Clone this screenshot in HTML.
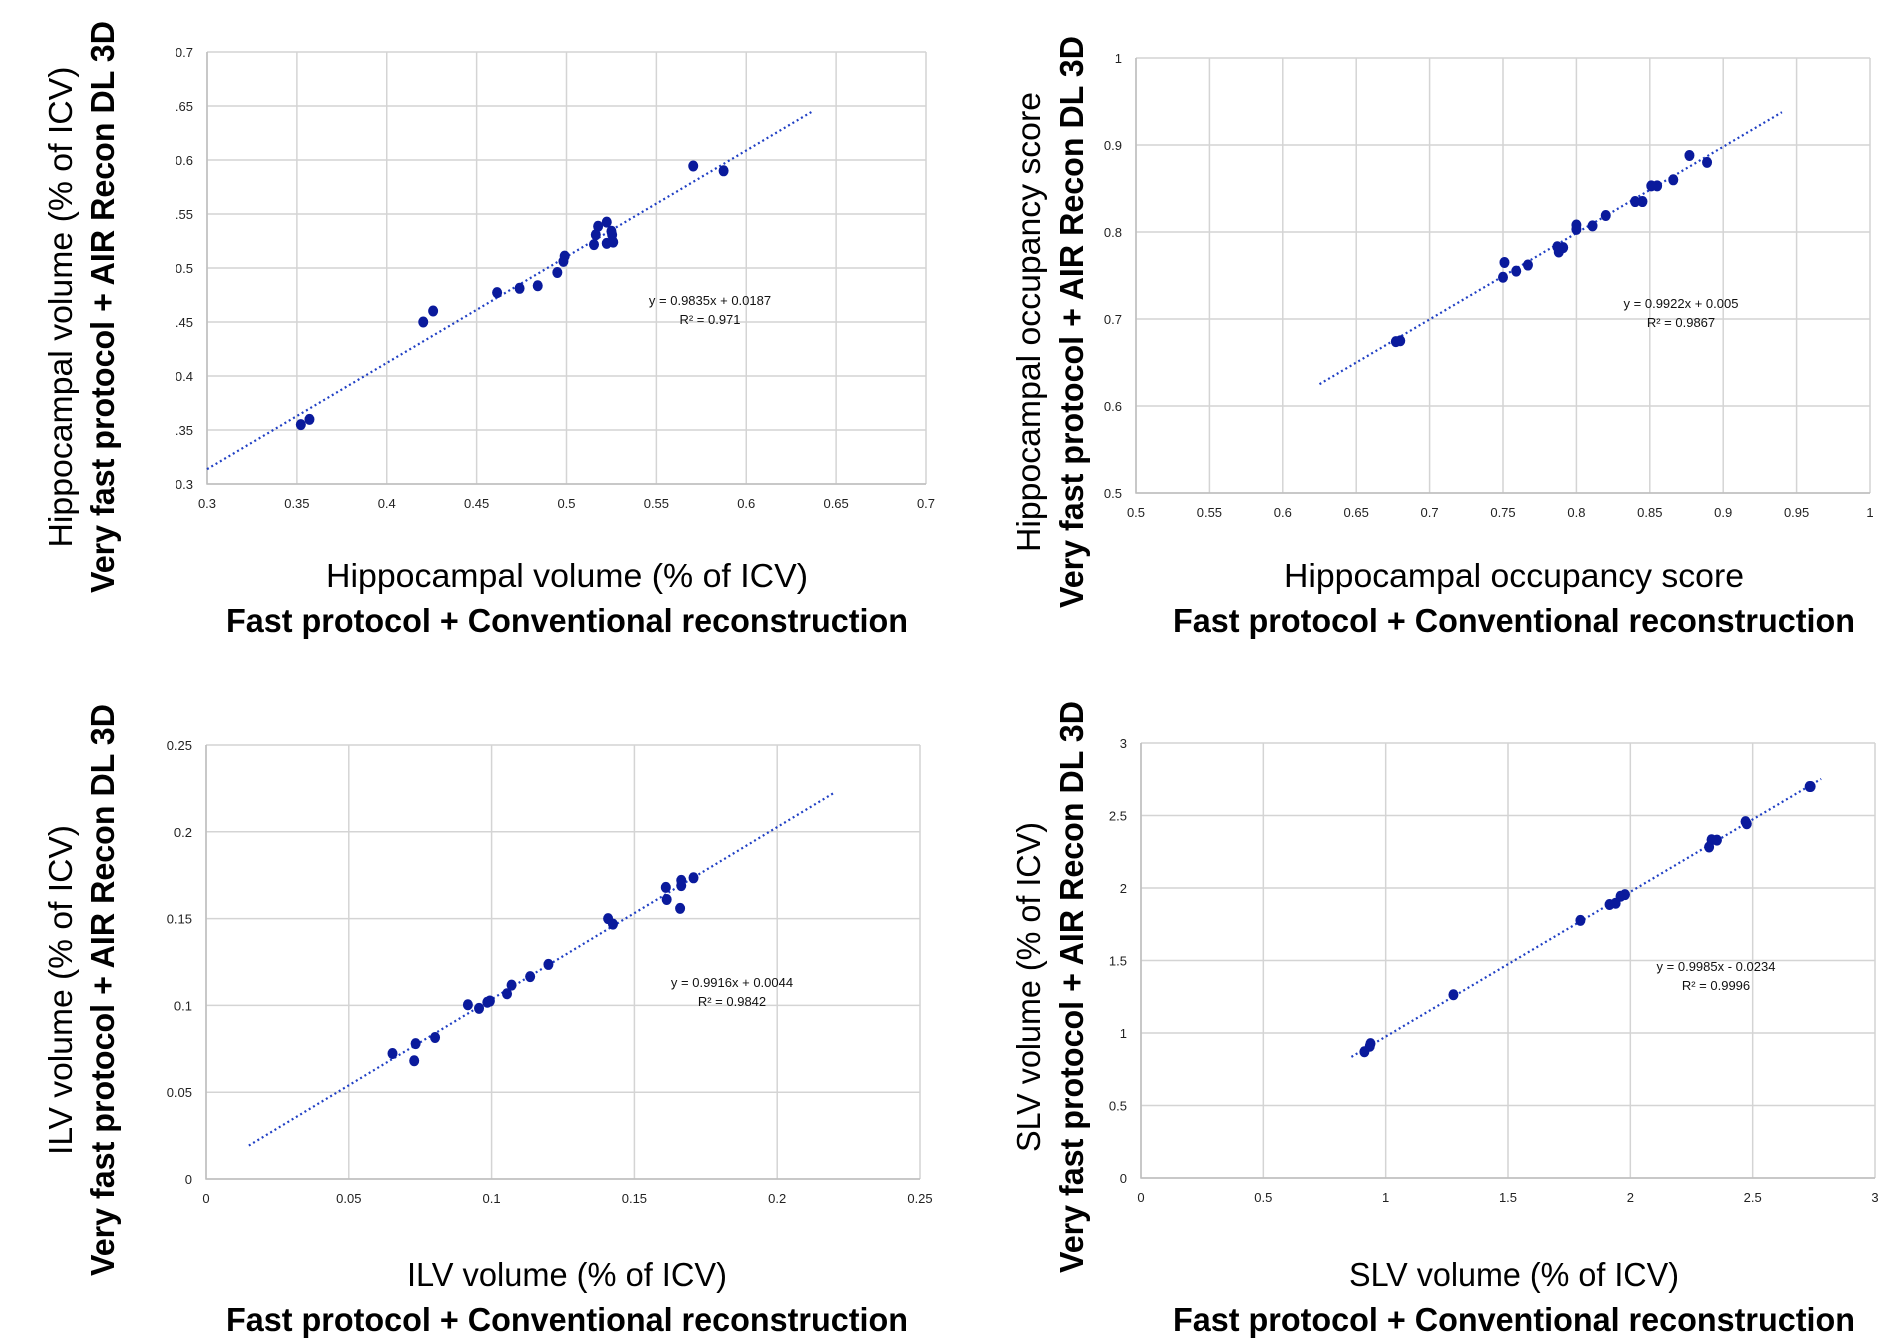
<!DOCTYPE html>
<html><head><meta charset="utf-8"><style>
html,body{margin:0;padding:0;background:#fff;}
svg{display:block;font-family:"Liberation Sans",sans-serif;}
</style></head><body>
<svg id="fig" width="1900" height="1339" viewBox="0 0 1900 1339" xmlns="http://www.w3.org/2000/svg">
<defs><clipPath id="clip1"><rect x="176" y="0" width="800" height="700"/></clipPath></defs>
</svg>
<script>
// ---- Chart 1: Hippocampal volume ----
const hvX = [0.5705,0.5874,0.5176,0.5224,0.5163,0.5153,0.5224,0.525,0.5254,0.526,0.499,0.4983,0.4949,0.484,0.4739,0.4614,0.4258,0.4203,0.357,0.3522];
const hvY = [0.5944,0.590,0.5387,0.5425,0.5308,0.5216,0.5228,0.534,0.5308,0.524,0.511,0.5061,0.4958,0.4836,0.4812,0.4772,0.4602,0.45,0.3598,0.355];
const hvXTicks = [0.3,0.35,0.4,0.45,0.5,0.55,0.6,0.65,0.7];
const hvYTicks = [0.3,0.35,0.4,0.45,0.5,0.55,0.6,0.65,0.7];
const hvXLabels = ["0.3","0.35","0.4","0.45","0.5","0.55","0.6","0.65","0.7"];
const hvYLabels = ["0.3","0.35","0.4","0.45","0.5","0.55","0.6","0.65","0.7"];
const hvFit = [0.9835,0.0187];
const hvFitRange = [0.3,0.637];
// ---- Chart 2: Hippocampal occupancy score ----
const hoX = [0.877,0.889,0.866,0.855,0.851,0.845,0.840,0.820,0.811,0.800,0.800,0.791,0.788,0.787,0.767,0.759,0.751,0.750,0.680,0.677];
const hoY = [0.888,0.880,0.860,0.853,0.853,0.835,0.835,0.819,0.807,0.808,0.803,0.782,0.777,0.783,0.762,0.755,0.765,0.748,0.675,0.674];
const hoXTicks = [0.5,0.55,0.6,0.65,0.7,0.75,0.8,0.85,0.9,0.95,1];
const hoYTicks = [0.5,0.6,0.7,0.8,0.9,1];
const hoXLabels = ["0.5","0.55","0.6","0.65","0.7","0.75","0.8","0.85","0.9","0.95","1"];
const hoYLabels = ["0.5","0.6","0.7","0.8","0.9","1"];
const hoFit = [0.9922,0.005];
const hoFitRange = [0.625,0.94];
// ---- Chart 3: ILV volume ----
const ilvX = [0.1707,0.1664,0.1664,0.161,0.1613,0.166,0.1408,0.1425,0.1199,0.1135,0.107,0.1054,0.0994,0.0985,0.0956,0.0917,0.0802,0.0734,0.0729,0.0653];
const ilvY = [0.1735,0.172,0.169,0.168,0.161,0.1559,0.150,0.1468,0.1236,0.1166,0.1117,0.1067,0.1025,0.1018,0.0983,0.1004,0.0815,0.078,0.0681,0.0723];
const ilvXTicks = [0,0.05,0.1,0.15,0.2,0.25];
const ilvYTicks = [0,0.05,0.1,0.15,0.2,0.25];
const ilvXLabels = ["0","0.05","0.1","0.15","0.2","0.25"];
const ilvYLabels = ["0","0.05","0.1","0.15","0.2","0.25"];
const ilvFit = [0.9916,0.0044];
const ilvFitRange = [0.015,0.22];
// ---- Chart 4: SLV volume ----
const slvX = [2.733,2.737,2.471,2.476,2.332,2.354,2.322,1.978,1.960,1.940,1.915,1.796,1.277,0.938,0.935,0.913];
const slvY = [2.70,2.70,2.458,2.443,2.333,2.330,2.283,1.954,1.943,1.895,1.886,1.777,1.264,0.927,0.909,0.871];
const slvXTicks = [0,0.5,1,1.5,2,2.5,3];
const slvYTicks = [0,0.5,1,1.5,2,2.5,3];
const slvXLabels = ["0","0.5","1","1.5","2","2.5","3"];
const slvYLabels = ["0","0.5","1","1.5","2","2.5","3"];
const slvFit = [0.9985,-0.0234];
const slvFitRange = [0.86,2.78];

const NS="http://www.w3.org/2000/svg";
const svg=document.getElementById('fig');
function mk(tag,attrs,parent){const e=document.createElementNS(NS,tag);for(const k in attrs)e.setAttribute(k,attrs[k]);(parent||svg).appendChild(e);return e;}

function chart(o){
  const g=mk('g',{});
  
  
  const sx=v=>o.L+(v-o.xd[0])/(o.xd[1]-o.xd[0])*(o.R-o.L);
  const sy=v=>o.B-(v-o.yd[0])/(o.yd[1]-o.yd[0])*(o.B-o.T);
  const lg=mk('g',{},g);
  if(o.clip) lg.setAttribute('clip-path','url(#'+o.clip+')');
  o.xt.forEach((v,i)=>{
    const l=mk('line',{x1:sx(v),x2:sx(v),y1:o.T,y2:o.B,stroke:'#d4d4d4','stroke-width':1.5},g);
    
    
    const t=mk('text',{x:sx(v),y:o.B+24,'text-anchor':'middle','font-size':13,fill:'#222'},g);
    t.textContent=o.xl[i];
    
    
  });
  o.yt.forEach((v,i)=>{
    const l=mk('line',{x1:o.L,x2:o.R,y1:sy(v),y2:sy(v),stroke:'#d4d4d4','stroke-width':1.5},g);
    
    
    const t=mk('text',{x:o.L-14,y:sy(v)+5,'text-anchor':'end','font-size':13,fill:'#222'},lg);
    t.textContent=o.yl[i];
    
    
  });
  const ax=mk('path',{d:`M${o.L} ${o.T}V${o.B}H${o.R}`,stroke:'#bdbdbd','stroke-width':1.5,fill:'none'},g);
  
  
  const f=o.fit,fr=o.fr;
  const tl=mk('line',{x1:sx(fr[0]),y1:sy(f[0]*fr[0]+f[1]),x2:sx(fr[1]),y2:sy(f[0]*fr[1]+f[1]),stroke:'#1f3fc4','stroke-width':2.2,'stroke-dasharray':'2 3'},g);
  
  
  o.x.forEach((v,i)=>{
    const c=mk('ellipse',{cx:sx(v),cy:sy(o.y[i]),rx:5,ry:5.5,fill:'#0a1a9c'},g);
    
    
  });
  const eq=mk('text',{x:o.eq[0],y:o.eq[1],'text-anchor':'middle','font-size':13,fill:'#111'},g);
  eq.textContent=o.eqText;
  
  
  const r2=mk('text',{x:o.eq[0],y:o.eq[1]+19,'text-anchor':'middle','font-size':13,fill:'#111'},g);
  r2.textContent=o.r2Text;
  
  
  // axis titles
  const yt1=mk('text',{transform:`translate(${o.yT[0]},${o.yT[2]}) rotate(-90)`,'text-anchor':'middle','font-size':33,fill:'#000',textLength:o.yT[3],lengthAdjust:'spacingAndGlyphs'},g);
  yt1.textContent=o.yTitle;
  
  
  const yt2=mk('text',{transform:`translate(${o.yT[1]},${o.yT[2]}) rotate(-90)`,'text-anchor':'middle','font-size':33,'font-weight':'bold',fill:'#000',textLength:572,lengthAdjust:'spacingAndGlyphs'},g);
  yt2.textContent='Very fast protocol + AIR Recon DL 3D';
  
  
  const xt1=mk('text',{x:o.xT[0],y:o.xT[1],'text-anchor':'middle','font-size':33,fill:'#000',textLength:o.xT[2],lengthAdjust:'spacingAndGlyphs'},g);
  xt1.textContent=o.xTitle;
  
  
  const xt2=mk('text',{x:o.xT[0],y:o.xT[1]+45,'text-anchor':'middle','font-size':33,'font-weight':'bold',fill:'#000',textLength:682,lengthAdjust:'spacingAndGlyphs'},g);
  xt2.textContent='Fast protocol + Conventional reconstruction';
  
  
}

chart({name:'hippocampal-volume-chart',L:207,R:926,T:52,B:484,xd:[0.3,0.7],yd:[0.3,0.7],x:hvX,y:hvY,xt:hvXTicks,yt:hvYTicks,xl:hvXLabels,yl:hvYLabels,fit:hvFit,fr:hvFitRange,clip:'clip1',
  eq:[710,305],eqText:'y = 0.9835x + 0.0187',r2Text:'R² = 0.971',
  yTitle:'Hippocampal volume (% of ICV)',yT:[72,114,307,481],xTitle:'Hippocampal volume (% of ICV)',xT:[567,587,482]});
chart({name:'hippocampal-occupancy-chart',L:1136,R:1870,T:58,B:493,xd:[0.5,1],yd:[0.5,1],x:hoX,y:hoY,xt:hoXTicks,yt:hoYTicks,xl:hoXLabels,yl:hoYLabels,fit:hoFit,fr:hoFitRange,
  eq:[1681,308],eqText:'y = 0.9922x + 0.005',r2Text:'R² = 0.9867',
  yTitle:'Hippocampal occupancy score',yT:[1040,1083,322,460],xTitle:'Hippocampal occupancy score',xT:[1514,587,460]});
chart({name:'ilv-volume-chart',L:206,R:920,T:745,B:1179,xd:[0,0.25],yd:[0,0.25],x:ilvX,y:ilvY,xt:ilvXTicks,yt:ilvYTicks,xl:ilvXLabels,yl:ilvYLabels,fit:ilvFit,fr:ilvFitRange,
  eq:[732,987],eqText:'y = 0.9916x + 0.0044',r2Text:'R² = 0.9842',
  yTitle:'ILV volume (% of ICV)',yT:[72,114,990,330],xTitle:'ILV volume (% of ICV)',xT:[567,1286,320]});
chart({name:'slv-volume-chart',L:1141,R:1875,T:743,B:1178,xd:[0,3],yd:[0,3],x:slvX,y:slvY,xt:slvXTicks,yt:slvYTicks,xl:slvXLabels,yl:slvYLabels,fit:slvFit,fr:slvFitRange,
  eq:[1716,971],eqText:'y = 0.9985x - 0.0234',r2Text:'R² = 0.9996',
  yTitle:'SLV volume (% of ICV)',yT:[1040,1083,987,330],xTitle:'SLV volume (% of ICV)',xT:[1514,1286,330]});
</script>
</body></html>
